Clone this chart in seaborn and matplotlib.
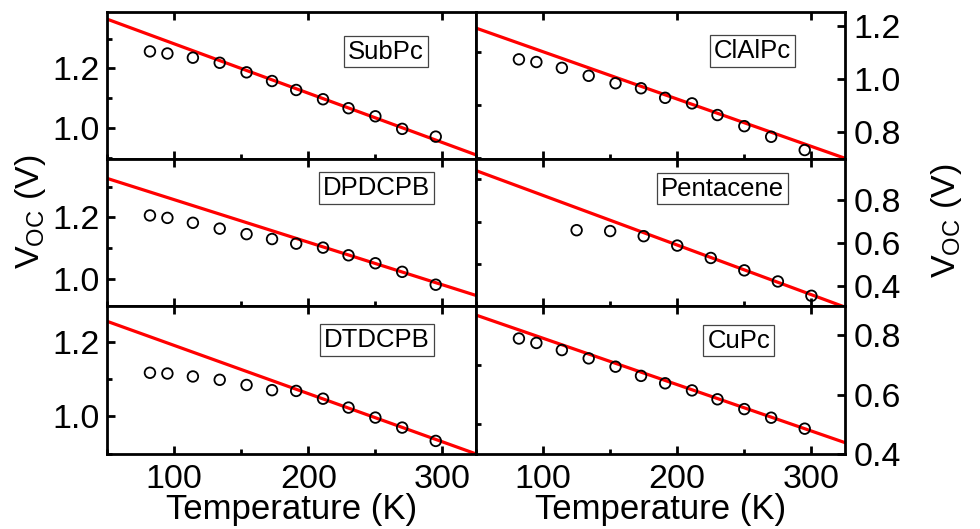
import numpy as np
import pandas as pd
import seaborn as sns
import matplotlib
matplotlib.use("Agg")
import matplotlib.pyplot as plt
from matplotlib.ticker import MultipleLocator

sns.set_style("ticks")
plt.rcParams['font.family'] = ['Liberation Sans', 'DejaVu Sans']
plt.rcParams['mathtext.fontset'] = 'custom'
plt.rcParams['mathtext.rm'] = 'Liberation Sans'
plt.rcParams['mathtext.it'] = 'Liberation Sans'
plt.rcParams['text.color'] = 'black'
plt.rcParams['axes.labelcolor'] = 'black'

# ---- data ----
materials = ["SubPc", "ClAlPc", "DPDCPB", "Pentacene", "DTDCPB", "CuPc"]

T_common = [82, 95, 114, 134, 154, 173, 191, 211, 230, 250, 270, 295]
T_pentacene = [125, 150, 175, 200, 225, 250, 275, 300]

v_subpc = [1.257, 1.250, 1.236, 1.219, 1.187, 1.158, 1.128, 1.097, 1.067, 1.040, 0.998, 0.972]
v_clalpc = [1.073, 1.063, 1.041, 1.011, 0.983, 0.964, 0.928, 0.907, 0.863, 0.821, 0.781, 0.731]
v_dpdcpb = [1.206, 1.198, 1.182, 1.163, 1.145, 1.129, 1.114, 1.101, 1.076, 1.050, 1.022, 0.980]
v_pentacene = [0.660, 0.656, 0.632, 0.588, 0.530, 0.472, 0.420, 0.353]
v_dtdcpb = [1.118, 1.116, 1.108, 1.099, 1.085, 1.071, 1.069, 1.048, 1.024, 0.997, 0.970, 0.934]
v_cupc = [0.789, 0.774, 0.750, 0.722, 0.694, 0.663, 0.638, 0.614, 0.584, 0.551, 0.522, 0.485]

# linear fits: V at T=50 K and at T=325 K
fit_T = [50, 325]
fit_v_start = [1.365, 1.191, 1.327, 0.939, 1.257, 0.868]
fit_v_end = [0.911, 0.700, 0.945, 0.300, 0.899, 0.438]

ylims = [(0.897, 1.39), (0.697, 1.253), (0.909, 1.39), (0.303, 0.993), (0.899, 1.297), (0.40, 0.897)]
yticks = [[1.0, 1.2], [0.8, 1.0, 1.2], [1.0, 1.2], [0.4, 0.6, 0.8], [1.0, 1.2], [0.4, 0.6, 0.8]]
xticks = [100, 200, 300]

temps = [T_common, T_common, T_common, T_pentacene, T_common, T_common]
volts = [v_subpc, v_clalpc, v_dpdcpb, v_pentacene, v_dtdcpb, v_cupc]

# label box positions (axes fraction, right edge / center)
label_pos = [(0.859, 0.729), (0.854, 0.731), (0.875, 0.803), (0.835, 0.80), (0.875, 0.771), (0.797, 0.769)]

fig = plt.figure(figsize=(9.8, 5.29), dpi=100)
gs = fig.add_gridspec(3, 2, left=0.1092, right=0.8622, top=0.978, bottom=0.142, hspace=0, wspace=0)

for i, name in enumerate(materials):
    r, c = divmod(i, 2)
    ax = fig.add_subplot(gs[r, c])
    df = pd.DataFrame({"T": temps[i], "V": volts[i]})
    fit = pd.DataFrame({"T": fit_T, "V": [fit_v_start[i], fit_v_end[i]]})
    sns.lineplot(data=fit, x="T", y="V", ax=ax, color="#ff0000", linewidth=2.3, zorder=2)
    sns.scatterplot(data=df, x="T", y="V", ax=ax, marker="o", s=58,
                    facecolor="none", edgecolor="black", linewidth=1.3, zorder=3)
    ax.set_xlim(50, 325)
    ax.set_ylim(*ylims[i])
    ax.set_xticks(xticks)
    ax.xaxis.set_minor_locator(MultipleLocator(50))
    ax.set_yticks(yticks[i])
    ax.yaxis.set_minor_locator(MultipleLocator(0.1))
    ax.set_xlabel("")
    ax.set_ylabel("")
    for sp in ax.spines.values():
        sp.set_linewidth(2.0)
        sp.set_color("black")
    ax.tick_params(axis="both", which="both", direction="in", width=2.0, color="black",
                   labelsize=24.5, labelcolor="black")
    ax.tick_params(axis="both", which="major", length=6)
    ax.tick_params(axis="both", which="minor", length=3.5)
    ax.tick_params(axis="x", top=True, bottom=True, pad=7)
    if c == 0:
        ax.tick_params(axis="y", left=True, right=False, labelleft=True, labelright=False, pad=5)
    else:
        ax.tick_params(axis="y", left=False, right=True, labelleft=False, labelright=True, pad=6)
    ax.yaxis.set_major_formatter(matplotlib.ticker.FormatStrFormatter("%.1f"))
    if r < 2:
        ax.tick_params(axis="x", labelbottom=False)
    else:
        ax.set_xlabel("Temperature (K)", fontsize=25, labelpad=-1, color="black")
    lx, ly = label_pos[i]
    ax.text(lx, ly, name, transform=ax.transAxes, ha="right", va="center", fontsize=18.5,
            color="black",
            bbox=dict(boxstyle="square,pad=0.15", fc="white", ec="#444444", lw=0.9), zorder=5)

fig.text(0.031, 0.600, r"V$_{\mathregular{OC}}$ (V)", rotation=90, ha="center", va="center",
         fontsize=24.5, color="black")
fig.text(0.966, 0.582, r"V$_{\mathregular{OC}}$ (V)", rotation=90, ha="center", va="center",
         fontsize=24.5, color="black")

fig.savefig("out.png", dpi=100)
